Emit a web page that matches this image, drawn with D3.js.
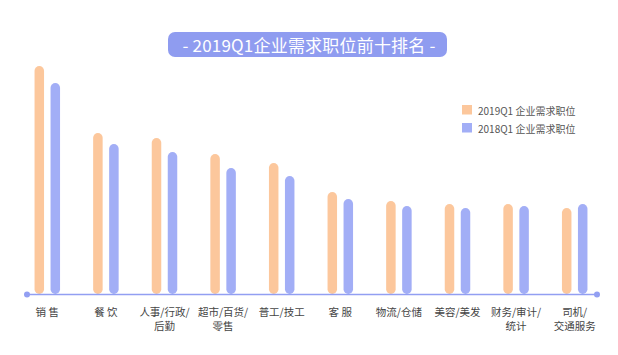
<!DOCTYPE html>
<html><head><meta charset="utf-8">
<script src="https://cdn.jsdelivr.net/npm/d3@7"></script>
<style>body{margin:0;background:#fff}svg{display:block}</style>
</head><body>
<script>
const categories = ["销 售","餐 饮","人事/行政/\n后勤","超市/百货/\n零售","普工/技工","客 服","物流/仓储","美容/美发","财务/审计/\n统计","司机/\n交通服务"];
const series2019 = [228,161,156,140,131,102,93,90,90,86];
const series2018 = [211,150,142,126,118,95,88,86,88,90];
const seriesNames = ["2019Q1 企业需求职位","2018Q1 企业需求职位"];
const title = "- 2019Q1企业需求职位前十排名 -";

const W=618,H=355;
const svg=d3.select("body").append("svg").attr("width",W).attr("height",H);
const font="'Noto Sans CJK SC','Noto Sans',sans-serif";
const cOrange="#fcc79c", cBlue="#a2aef6", cAxis="#929ff2";

const x=d3.scaleBand().domain(categories).range([18,604]).paddingInner(0).paddingOuter(0);
const y=d3.scaleLinear().domain([0,228]).range([294,66]);
const bw=9.5, off=8;

// title pill
svg.append("rect").attr("x",168).attr("y",32).attr("width",279).attr("height",25).attr("rx",7).attr("fill","#8f9cf0");
svg.append("text").attr("x",309).attr("y",44.5).attr("text-anchor","middle").attr("dominant-baseline","central")
 .attr("fill","#fff").attr("font-family",font).attr("font-size",17).attr("letter-spacing",0.2).text(title);

// bars
const g=svg.append("g");
categories.forEach((c,i)=>{
  const cx=x(c)+x.bandwidth()/2;
  [[series2019[i],cOrange,-off],[series2018[i],cBlue,off]].forEach(([v,col,o])=>{
    g.append("rect").attr("x",cx+o-bw/2).attr("y",y(v)).attr("width",bw).attr("height",y(0)-y(v))
     .attr("rx",bw/2).attr("fill",col);
  });
});

// axis
svg.append("line").attr("x1",27).attr("x2",597).attr("y1",294.5).attr("y2",294.5).attr("stroke",cAxis).attr("stroke-width",1.5);
svg.append("circle").attr("cx",27).attr("cy",294.5).attr("r",3).attr("fill",cAxis);
svg.append("circle").attr("cx",597).attr("cy",294.5).attr("r",3).attr("fill",cAxis);

// labels
categories.forEach(c=>{
  const cx=x(c)+x.bandwidth()/2;
  c.split("\n").forEach((l,j)=>{
    svg.append("text").attr("x",cx).attr("y",315.5+j*14).attr("text-anchor","middle").attr("font-family",font)
      .attr("font-size",10.5).attr("fill","#444").text(l);
  });
});

// legend
[[cOrange,seriesNames[0],105],[cBlue,seriesNames[1],123]].forEach(([col,name,yy])=>{
  svg.append("rect").attr("x",462).attr("y",yy).attr("width",10).attr("height",9.5).attr("fill",col);
  svg.append("text").attr("x",478).attr("y",yy+5).attr("dominant-baseline","central").attr("font-family",font)
   .attr("font-size",10).attr("fill","#555").text(name);
});
</script>
</body></html>
